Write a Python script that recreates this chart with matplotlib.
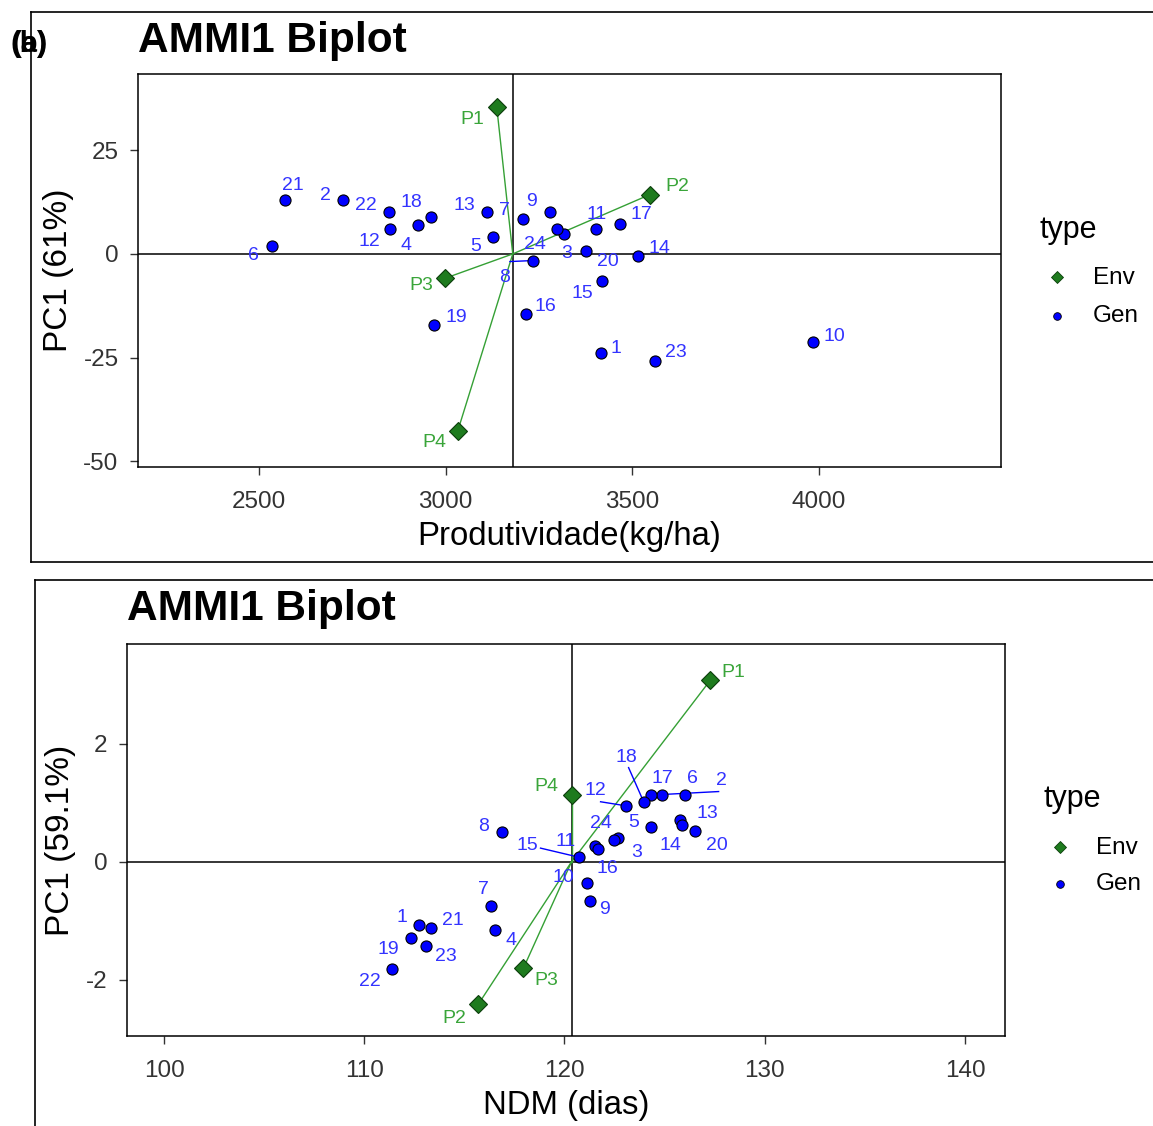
import matplotlib
matplotlib.use("Agg")
import matplotlib.pyplot as plt
from matplotlib.lines import Line2D
import numpy as np

plt.rcParams['font.family'] = ['Liberation Sans', 'DejaVu Sans']

# ---------------- data: panel (a) ----------------
gen_a = [str(i) for i in range(1, 25)]
gen_x_a = [3416, 2725, 3317, 2926, 3127, 2535, 3207, 3234, 3280, 3984, 3403, 2851,
           3111, 3515, 3419, 3215, 3467, 2961, 2969, 3376, 2570, 2848, 3561, 3298]
gen_y_a = [-23.9, 12.9, 4.9, 6.9, 4.0, 1.8, 8.5, -1.6, 10.0, -21.3, 5.9, 5.9,
           10.0, -0.4, -6.6, -14.5, 7.1, 9.0, -17.2, 0.6, 13.1, 10.0, -25.8, 6.1]
env_a = ['P1', 'P2', 'P3', 'P4']
env_x_a = [3137, 3547, 2998, 3033]
env_y_a = [35.5, 14.3, -5.9, -42.6]
mean_a = 3180
xticks_a = [2500, 3000, 3500, 4000]
yticks_a = [-50, -25, 0, 25]

# ---------------- data: panel (b) ----------------
gen_b = [str(i) for i in range(1, 25)]
gen_x_b = [112.71, 124.85, 122.65, 116.55, 124.30, 126.04, 116.35, 116.90, 121.25, 121.10,
           121.50, 123.05, 125.79, 125.89, 120.70, 121.65, 124.30, 123.95, 112.31, 126.54,
           113.31, 111.36, 113.06, 122.45]
gen_y_b = [-1.07, 1.14, 0.41, -1.15, 0.59, 1.14, -0.75, 0.51, -0.66, -0.36,
           0.27, 0.95, 0.71, 0.63, 0.08, 0.22, 1.14, 1.02, -1.29, 0.53,
           -1.12, -1.81, -1.42, 0.37]
env_b = ['P1', 'P2', 'P3', 'P4']
env_x_b = [127.29, 115.70, 117.95, 120.35]
env_y_b = [3.08, -2.41, -1.80, 1.14]
mean_b = 120.35
xticks_b = [100, 110, 120, 130, 140]
yticks_b = [-2, 0, 2]

# ---------------- label placement (pixel offsets, y downwards) ----------------
off_gen_a = {'1': (15, -4), '2': (-17, -5), '3': (3, 20), '4': (-12, 20), '5': (-17, 9),
             '6': (-19, 9), '7': (-18, -8), '8': (-28, 17), '9': (-19, -11), '10': (22, -6),
             '11': (1, -15), '12': (-21, 12), '13': (-23, -7), '14': (22, -7), '15': (-20, 12),
             '16': (20, -8), '17': (21, -10), '18': (-20, -14), '19': (22, -8), '20': (22, 10),
             '21': (8, -14), '22': (-23, -7), '23': (21, -8), '24': (-22, 16)}
seg_a = {'8': (-23, 1)}
off_env_a = {'P1': (-24, 13), 'P2': (28, -8), 'P3': (-24, 7), 'P4': (-24, 12)}

off_gen_b = {'1': (-17, -8), '2': (60, -14), '3': (19, 15), '4': (16, 11), '5': (-17, -5),
             '6': (7, -16), '7': (-8, -17), '8': (-19, -5), '9': (15, 9), '10': (-23, -6),
             '11': (-29, -4), '12': (-30, -15), '13': (27, -6), '14': (-12, 21), '15': (-51, -12),
             '16': (10, 20), '17': (12, -16), '18': (-17, -44), '19': (-22, 11), '20': (21, 15),
             '21': (22, -7), '22': (-22, 13), '23': (20, 11), '24': (-13, -17)}
seg_b = {'2': (57, -3), '12': (-25, -4), '15': (-38, -9), '18': (-15, -34)}
off_env_b = {'P1': (23, -8), 'P2': (-24, 14), 'P3': (23, 12), 'P4': (-25, -8)}

W, H = 1153, 1126
fig = plt.figure(figsize=(W / 100, H / 100), dpi=100)

GEN_C = '#0000FF'
GEN_T = '#3333FF'
ENV_C = '#1E7B1E'
ENV_T = '#3AA53A'
LINE_C = '#35A035'
TICK_C = '#333333'


def fx(px):
    return px / W


def fy(py):
    return 1 - py / H


def panel(rect, gx, gy, glab, ex, ey, elab, mean, xlim, ylim, xticks, yticks,
          offg, segs, offe, xlabel, ylabel):
    ax = fig.add_axes(rect)
    ax.set_xlim(*xlim)
    ax.set_ylim(*ylim)
    ax.axhline(0, color='black', lw=1.1, zorder=1)
    ax.axvline(mean, color='black', lw=1.1, zorder=1)
    for x, y in zip(ex, ey):
        ax.plot([mean, x], [0, y], color=LINE_C, lw=1.0, zorder=2)
    ax.plot(gx, gy, 'o', color=GEN_C, mec='black', mew=0.8, ms=8, zorder=4, ls='none')
    ax.plot(ex, ey, 'D', color=ENV_C, mec='#0b3d0b', mew=0.8, ms=9, zorder=4, ls='none')
    for lab, x, y in zip(glab, gx, gy):
        dx, dy = offg[lab]
        if lab in segs:
            sx, sy = segs[lab]
            disp = ax.transData.transform((x, y))
            end = ax.transData.inverted().transform((disp[0] + sx, disp[1] - sy))
            ax.plot([x, end[0]], [y, end[1]], color=GEN_C, lw=1.0, zorder=3)
        ax.annotate(lab, (x, y), xytext=(dx, -dy), textcoords='offset pixels',
                    ha='center', va='center', color=GEN_T, fontsize=14, zorder=5)
    for lab, x, y in zip(elab, ex, ey):
        dx, dy = offe[lab]
        ax.annotate(lab, (x, y), xytext=(dx, -dy), textcoords='offset pixels',
                    ha='center', va='center', color=ENV_T, fontsize=14, zorder=5)
    ax.set_xticks(xticks)
    ax.set_yticks(yticks)
    ax.set_xticklabels([str(t) for t in xticks])
    ax.set_yticklabels([str(t) for t in yticks])
    ax.tick_params(direction='out', length=6, width=1, color=TICK_C, labelcolor=TICK_C,
                   labelsize=17.5)
    ax.tick_params(axis='x', pad=11)
    ax.tick_params(axis='y', pad=8)
    for s in ax.spines.values():
        s.set_color('black')
        s.set_linewidth(1.1)
    ax.set_xlabel(xlabel, fontsize=23.7, color='black', labelpad=6)
    ax.set_ylabel(ylabel, fontsize=24, color='black', labelpad=7)
    return ax


# Panel (a)
ax1 = panel([fx(138), fy(467), (1001 - 138) / W, (467 - 74) / H],
            gen_x_a, gen_y_a, gen_a, env_x_a, env_y_a, env_a, mean_a,
            (2176, 4488), (-51.4, 43.4), xticks_a, yticks_a,
            off_gen_a, seg_a, off_env_a, 'Produtividade(kg/ha)', 'PC1 (61%)')

# Panel (b)
ax2 = panel([fx(127), fy(1036), (1005 - 127) / W, (1036 - 644) / H],
            gen_x_b, gen_y_b, gen_b, env_x_b, env_y_b, env_b, mean_b,
            (98.15, 142.0), (-2.95, 3.69), xticks_b, yticks_b,
            off_gen_b, seg_b, off_env_b, 'NDM (dias)', 'PC1 (59.1%)')

# Titles
fig.text(fx(138), fy(41), 'AMMI1 Biplot', fontsize=30.5, fontweight='bold', ha='left', va='center')
fig.text(fx(127), fy(609), 'AMMI1 Biplot', fontsize=30.5, fontweight='bold', ha='left', va='center')

# Panel labels (overlapping)
fig.text(fx(29), fy(44), '(a)', fontsize=21, fontweight='bold', ha='center', va='center')
fig.text(fx(29), fy(44), '(b)', fontsize=21, fontweight='bold', ha='center', va='center')

# Frames
fig.add_artist(Line2D([fx(31), fx(31)], [fy(12), fy(562)], color='black', lw=1.2))
fig.add_artist(Line2D([fx(31), 1], [fy(12), fy(12)], color='black', lw=1.2))
fig.add_artist(Line2D([fx(31), 1], [fy(562), fy(562)], color='black', lw=1.2))
fig.add_artist(Line2D([fx(35), fx(35)], [fy(580), 0], color='black', lw=1.2))
fig.add_artist(Line2D([fx(35), 1], [fy(580), fy(580)], color='black', lw=1.2))


def legend(x0, ytitle, yenv, ygen):
    fig.text(fx(x0), fy(ytitle), 'type', fontsize=22, ha='left', va='center')
    fig.add_artist(Line2D([fx(x0 + 17)], [fy(yenv)], marker='D', ms=6, color=ENV_C,
                          mec='#0b3d0b', mew=0.6, ls='none'))
    fig.add_artist(Line2D([fx(x0 + 17)], [fy(ygen)], marker='o', ms=5.5, color=GEN_C,
                          mec='black', mew=0.6, ls='none'))
    fig.text(fx(x0 + 53), fy(yenv + 1), 'Env', fontsize=17.5, ha='left', va='center')
    fig.text(fx(x0 + 53), fy(ygen), 'Gen', fontsize=17.5, ha='left', va='center')


legend(1040, 230, 277, 316)
legend(1043, 799, 847, 884)

fig.savefig('out.png', dpi=100)
